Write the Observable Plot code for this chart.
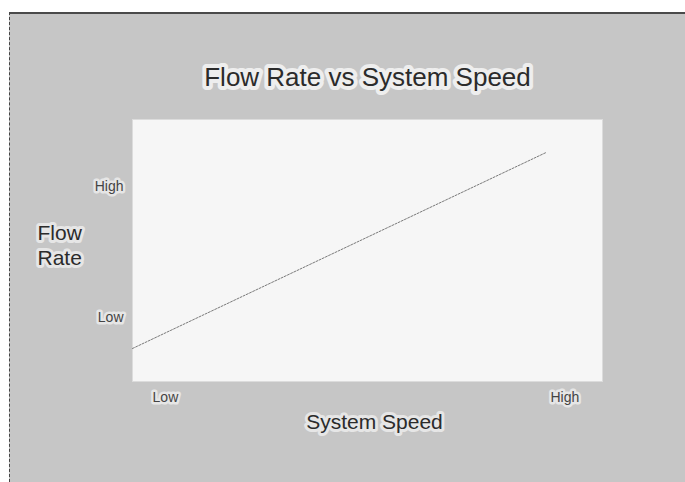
<!DOCTYPE html>
<html>
<head>
<meta charset="utf-8">
<script src="https://cdn.jsdelivr.net/npm/d3@7"></script>
<script src="https://cdn.jsdelivr.net/npm/@observablehq/plot@0.6"></script>
<style>
  html, body { margin: 0; padding: 0; background: #ffffff; }
  #wrap { position: relative; width: 685px; height: 482px; overflow: hidden; background: #ffffff; }
  #panel { position: absolute; left: 9px; top: 12px; right: 0; bottom: 0; background: #c6c6c6;
           border-top: 2px solid #4a4a4a; border-left: 1px dashed #444; }
  #chart { position: absolute; left: 0; top: 0; }
</style>
</head>
<body>
<div id="wrap"><div id="panel"></div><div id="chart"></div></div>
<script>
// Data (relative units, 0..10 on both axes)
const systemSpeed = [0, 8.8];
const flowRate = [1.26, 8.74];
const xTickPositions = [0.7, 9.2];
const xTickLabels = ["Low", "High"];
const yTickPositions = [7.45, 2.45];
const yTickLabels = ["High", "Low"];
const titleText = "Flow Rate vs System Speed";
const xLabelText = "System Speed";
const yLabelText = "Flow\nRate";

const points = systemSpeed.map((s, i) => ({speed: s, flow: flowRate[i]}));
const font = "'Liberation Sans', Arial, Helvetica, sans-serif";
const ink = "#2b2b2b";
const halo = "#e6e6e6";

const chart = Plot.plot({
  width: 685,
  height: 482,
  marginLeft: 132,
  marginRight: 83,
  marginTop: 119,
  marginBottom: 101,
  style: {background: "transparent", fontFamily: font, overflow: "visible"},
  x: {domain: [0, 10], axis: null},
  y: {domain: [0, 10], axis: null},
  marks: [
    Plot.frame({fill: "#f6f6f6", stroke: "#dcdcdc"}),
    Plot.line(points, {x: "speed", y: "flow", stroke: "#7a7a7a", strokeWidth: 1, strokeDasharray: "2,1.5"}),
    Plot.text(xTickPositions, {x: d => d, text: (d, i) => xTickLabels[i], frameAnchor: "bottom", dy: 16,
      lineAnchor: "middle", fontSize: 14, fill: "#444", stroke: halo, strokeWidth: 5}),
    Plot.text(yTickPositions, {y: d => d, text: (d, i) => yTickLabels[i], frameAnchor: "left", dx: -9,
      textAnchor: "end", fontSize: 14, fill: "#444", stroke: halo, strokeWidth: 5}),
    Plot.text([titleText], {text: d => d, frameAnchor: "top", dy: -42, lineAnchor: "middle", fontSize: 26,
      fill: ink, stroke: "#eeeeee", strokeWidth: 8}),
    Plot.text([xLabelText], {text: d => d, frameAnchor: "bottom", dx: 7, dy: 41, lineAnchor: "middle",
      fontSize: 21, fill: ink, stroke: halo, strokeWidth: 6}),
    Plot.text([yLabelText], {text: d => d, frameAnchor: "left", dx: -95, dy: -6, textAnchor: "start",
      lineHeight: 1.2, fontSize: 21, fill: ink, stroke: halo, strokeWidth: 6})
  ]
});
document.getElementById("chart").appendChild(chart);
</script>
</body>
</html>
